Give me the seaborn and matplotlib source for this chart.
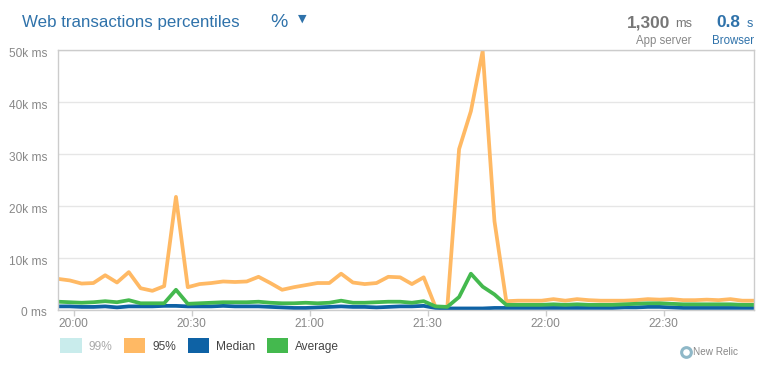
import matplotlib
matplotlib.use("Agg")
import matplotlib.pyplot as plt
import matplotlib.dates as mdates
import matplotlib.transforms as mtransforms
from matplotlib.patches import Patch
from matplotlib.lines import Line2D
import pandas as pd
import seaborn as sns

# sample times: one point every 3 minutes
START = "2015-01-01 19:56"
STEP = "3min"
N_POINTS = 60

p95_k = [5.9, 5.6, 5.0, 5.1, 6.6, 5.2, 7.2, 4.1, 3.6, 4.5,
         21.7, 4.3, 4.9, 5.1, 5.4, 5.3, 5.4, 6.3, 5.1, 3.8,
         4.3, 4.7, 5.1, 5.1, 6.9, 5.2, 4.9, 5.1, 6.3, 6.2,
         4.9, 6.2, 0.5, 0.35, 30.9, 38.2, 49.8, 17.0, 1.6, 1.7,
         1.7, 1.7, 2.0, 1.7, 2.0, 1.8, 1.7, 1.7, 1.7, 1.8,
         2.0, 1.9, 2.0, 1.8, 1.8, 1.9, 1.8, 2.0, 1.7, 1.7]
median_k = [0.6, 0.6, 0.5, 0.5, 0.6, 0.4, 0.6, 0.6, 0.6, 0.7,
            0.7, 0.6, 0.6, 0.6, 0.7, 0.6, 0.6, 0.6, 0.5, 0.4,
            0.3, 0.3, 0.4, 0.5, 0.6, 0.5, 0.5, 0.4, 0.5, 0.6,
            0.6, 0.7, 0.3, 0.2, 0.2, 0.2, 0.2, 0.3, 0.3, 0.3,
            0.3, 0.3, 0.3, 0.3, 0.3, 0.3, 0.3, 0.3, 0.4, 0.4,
            0.5, 0.5, 0.4, 0.3, 0.3, 0.3, 0.3, 0.3, 0.3, 0.3]
average_k = [1.5, 1.4, 1.3, 1.4, 1.6, 1.4, 1.8, 1.2, 1.2, 1.2,
             3.8, 1.1, 1.2, 1.3, 1.4, 1.4, 1.4, 1.5, 1.3, 1.2,
             1.2, 1.3, 1.2, 1.3, 1.7, 1.3, 1.3, 1.4, 1.5, 1.5,
             1.3, 1.6, 0.6, 0.5, 2.4, 6.9, 4.4, 2.9, 0.9, 0.9,
             0.9, 0.9, 1.0, 0.9, 1.0, 0.9, 0.9, 0.9, 1.0, 1.1,
             1.2, 1.2, 1.1, 1.0, 1.0, 1.0, 1.0, 1.0, 0.9, 0.9]

series_names = ["99%", "95%", "Median", "Average"]
colors = {"99%": "#c9ecec", "95%": "#ffb964", "Median": "#0e62a5", "Average": "#44b94e"}
y_ticks = [0, 10, 20, 30, 40, 50]
y_labels = ["0 ms", "10k ms", "20k ms", "30k ms", "40k ms", "50k ms"]

BLUE = "#2f72aa"
GREY = "#888888"

sns.set_theme(style="white")
plt.rcParams["font.family"] = ["Liberation Sans", "DejaVu Sans"]

times = pd.date_range(START, periods=N_POINTS, freq=STEP)
df = pd.concat([
    pd.DataFrame({"time": times, "value": p95_k, "series": "95%"}),
    pd.DataFrame({"time": times, "value": median_k, "series": "Median"}),
    pd.DataFrame({"time": times, "value": average_k, "series": "Average"}),
])

fig = plt.figure(figsize=(7.7, 3.73), dpi=100)
ax = fig.add_axes([58 / 770, 1 - 309.5 / 373, 696 / 770, 259.5 / 373])

sns.lineplot(data=df, x="time", y="value", hue="series",
             hue_order=["95%", "Median", "Average"], palette=colors,
             linewidth=2.7, legend=False, ax=ax)

ax.set_xlim(times[0], times[-1])
ax.set_ylim(0, 50)
ax.set_yticks(y_ticks)
ax.set_yticklabels(y_labels)
ax.grid(axis="y", color="#e6e6e6", linewidth=1)
ax.set_axisbelow(True)
ax.set_xlabel("")
ax.set_ylabel("")

ax.xaxis.set_major_locator(mdates.MinuteLocator(byminute=[0, 30]))
ax.xaxis.set_major_formatter(mdates.DateFormatter("%H:%M"))
ax.tick_params(axis="x", length=4, width=1, color="#cccccc", labelsize=8.6,
               labelcolor=GREY, pad=2, bottom=True)
ax.tick_params(axis="y", length=0, labelsize=8.6, labelcolor=GREY, pad=8)
# y labels sit a little below their gridlines
shift = mtransforms.ScaledTranslation(0, -2.5 / 100, fig.dpi_scale_trans)
for label in ax.get_yticklabels():
    label.set_transform(label.get_transform() + shift)
for side in ["left", "top", "right", "bottom"]:
    ax.spines[side].set_color("#cccccc")
    ax.spines[side].set_linewidth(1)

# header
fig.text(22 / 770, 1 - 27 / 373, "Web transactions percentiles", color=BLUE,
         fontsize=12.2, va="baseline", ha="left")
fig.text(270 / 770, 1 - 27 / 373, "%", color=BLUE, fontsize=14, va="baseline", ha="left")
fig.text(302 / 770, 1 - 22 / 373, "▼", color=BLUE, fontsize=8, va="baseline", ha="center",
         family="DejaVu Sans")

fig.text(670 / 770, 1 - 27 / 373, "1,300", color="#777777", fontsize=12.4,
         fontweight="bold", va="baseline", ha="right")
fig.text(692 / 770, 1 - 27 / 373, "ms", color="#777777", fontsize=9.2,
         va="baseline", ha="right")
fig.text(692 / 770, 1 - 44 / 373, "App server", color=GREY, fontsize=8.3,
         va="baseline", ha="right")
fig.text(740 / 770, 1 - 27 / 373, "0.8", color=BLUE, fontsize=12.4,
         fontweight="bold", va="baseline", ha="right")
fig.text(753 / 770, 1 - 27 / 373, "s", color=BLUE, fontsize=9.2,
         va="baseline", ha="right")
fig.text(754 / 770, 1 - 44 / 373, "Browser", color=BLUE, fontsize=8.3,
         va="baseline", ha="right")

# legend
handles = [Patch(facecolor=colors[s], edgecolor="none", label=s) for s in series_names]
leg = fig.legend(handles=handles, loc="upper left", ncol=4, frameon=False,
                 bbox_to_anchor=(60 / 770, 1 - 338 / 373), bbox_transform=fig.transFigure,
                 borderpad=0, borderaxespad=0, fontsize=8.6,
                 handlelength=1.8, handleheight=1.6, handletextpad=0.6,
                 columnspacing=0.95)
for text, name in zip(leg.get_texts(), series_names):
    text.set_color("#aaaaaa" if name == "99%" else "#444444")

# footer logo
fig.add_artist(Line2D([686 / 770], [1 - 352 / 373], marker="o", markersize=7,
                      markerfacecolor="white", markeredgecolor="#8fb8c8",
                      markeredgewidth=2.2, transform=fig.transFigure))
fig.text(693 / 770, 1 - 352 / 373, "New Relic", color=GREY, fontsize=7.2,
         va="center", ha="left")

fig.savefig("out.png", dpi=100)
